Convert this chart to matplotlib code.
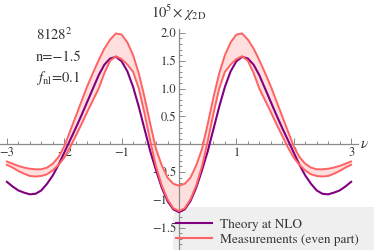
import numpy as np
import matplotlib
matplotlib.use("Agg")
import matplotlib.pyplot as plt
from matplotlib.lines import Line2D
from matplotlib.patches import FancyBboxPatch
from matplotlib.ticker import FixedLocator, MultipleLocator

plt.rcParams['font.family'] = ['STIXGeneral', 'DejaVu Serif']
plt.rcParams['mathtext.fontset'] = 'stix'

# ---- data ----
nu = np.round(np.arange(-3.0, 3.0001, 0.1), 1)

theory = [-0.675, -0.76, -0.83, -0.87, -0.90, -0.89, -0.83, -0.71, -0.56, -0.37,
          -0.15, 0.07, 0.29, 0.52, 0.76, 1.00, 1.24, 1.43, 1.54, 1.57,
          1.49, 1.31, 1.03, 0.67, 0.27, -0.13, -0.47, -0.78, -1.02, -1.17,
          -1.22,
          -1.17, -1.02, -0.78, -0.47, -0.13, 0.27, 0.67, 1.03, 1.31, 1.49,
          1.57, 1.54, 1.43, 1.24, 1.00, 0.76, 0.52, 0.29, 0.07, -0.15,
          -0.37, -0.56, -0.71, -0.83, -0.89, -0.90, -0.87, -0.83, -0.76, -0.675]

meas_upper = [-0.31, -0.35, -0.39, -0.42, -0.44, -0.45, -0.45, -0.42, -0.35, -0.23,
              -0.04, 0.23, 0.50, 0.77, 1.04, 1.28, 1.51, 1.72, 1.88, 1.99,
              1.97, 1.83, 1.60, 1.27, 0.84, 0.36, -0.09, -0.38, -0.60, -0.71,
              -0.745,
              -0.71, -0.60, -0.38, -0.09, 0.36, 0.84, 1.27, 1.60, 1.83, 1.97,
              1.99, 1.88, 1.72, 1.51, 1.28, 1.04, 0.77, 0.50, 0.23, -0.04,
              -0.23, -0.35, -0.42, -0.45, -0.45, -0.44, -0.42, -0.39, -0.35, -0.31]

meas_lower = [-0.37, -0.42, -0.48, -0.53, -0.57, -0.58, -0.57, -0.54, -0.47, -0.37,
              -0.24, -0.06, 0.15, 0.36, 0.58, 0.79, 1.00, 1.28, 1.50, 1.58,
              1.53, 1.43, 1.30, 1.00, 0.55, 0.05, -0.40, -0.74, -0.99, -1.15,
              -1.20,
              -1.15, -0.99, -0.74, -0.40, 0.05, 0.55, 1.00, 1.30, 1.43, 1.53,
              1.58, 1.50, 1.28, 1.00, 0.79, 0.58, 0.36, 0.15, -0.06, -0.24,
              -0.37, -0.47, -0.54, -0.57, -0.58, -0.57, -0.53, -0.48, -0.42, -0.37]

xticks = [-3, -2, -1, 1, 2, 3]
yticks = [-1.5, -1.0, -0.5, 0.5, 1.0, 1.5, 2.0]
legend_labels = ["Theory at NLO", "Measurements (even part)"]

# ---- styles ----
PURPLE = '#800080'
RED = '#ff6262'
FILL = '#ffdede'
AXC = '#8a8a8a'
TXT = '#333333'

W, H = 374, 250
fig = plt.figure(figsize=(W / 100, H / 100), dpi=100)
ax = fig.add_axes([0, 0, 358 / W, 221 / H])
ax.patch.set_alpha(0)
ax.set_xlim(-3.12, 3.12)
ax.set_ylim(-1.90, 2.07)

for s in ['top', 'right']:
    ax.spines[s].set_visible(False)
ax.spines['left'].set_position(('data', 0))
ax.spines['bottom'].set_position(('data', 0))
for s in ['left', 'bottom']:
    ax.spines[s].set_color(AXC)
    ax.spines[s].set_linewidth(0.9)
    ax.spines[s].set_zorder(3)

ax.xaxis.set_major_locator(FixedLocator(xticks))
ax.xaxis.set_minor_locator(MultipleLocator(0.2))
ax.yaxis.set_major_locator(FixedLocator(yticks))
ax.yaxis.set_minor_locator(MultipleLocator(0.1))
ax.set_xticklabels([f"{t:d}".replace('-', '\u2212') for t in xticks])
ax.set_yticklabels([f"{t:.1f}".replace('-', '\u2212') for t in yticks])
ax.tick_params(which='both', direction='in', color=AXC, labelcolor=TXT,
               labelsize=9, width=0.7)
ax.tick_params(which='major', length=4, pad=2)
ax.tick_params(which='minor', length=2)

ax.fill_between(nu, meas_lower, meas_upper, color=FILL, lw=0, zorder=2)
ax.plot(nu, theory, color=PURPLE, lw=1.5, zorder=4)
ax.plot(nu, meas_upper, color=RED, lw=1.4, zorder=4)
ax.plot(nu, meas_lower, color=RED, lw=1.4, zorder=4)

# legend background box (extends past the figure edge like the reference)
box = FancyBboxPatch((173 / W, -20 / H), 230 / W, (250 - 207 + 20) / H,
                     boxstyle='round,pad=0,rounding_size=0.035',
                     transform=fig.transFigure, facecolor='#efefef',
                     edgecolor='none', zorder=-1, mutation_aspect=W / H)
fig.patches.append(box)

handles = [Line2D([], [], color=PURPLE, lw=1.5), Line2D([], [], color=RED, lw=1.5)]
leg = ax.legend(handles, legend_labels, loc='center left',
                bbox_to_anchor=(176 / W, 1 - 232 / H), bbox_transform=fig.transFigure,
                frameon=False, borderaxespad=0, borderpad=0, handlelength=2.75,
                handletextpad=0.6, labelspacing=0.22, fontsize=9.5)
for t in leg.get_texts():
    t.set_color(TXT)

fig.text(179 / W, 1 - 13 / H, r'$10^5\!\times\,\chi_{\mathrm{2D}}$', ha='center', va='center',
         fontsize=10.5, color=TXT)
fig.text(365 / W, 1 - 144 / H, r'$\nu$', ha='center', va='center', fontsize=11, color=TXT)
fig.text(36 / W, 1 - 35 / H, r'$8128^2$', ha='left', va='center', fontsize=10.5, color=TXT)
fig.text(36 / W, 1 - 57 / H, 'n=\u22121.5', ha='left', va='center', fontsize=10.5, color=TXT)
fig.text(36 / W, 1 - 78 / H, r'$f_{\mathrm{nl}}\!=\!0.1$', ha='left', va='center',
         fontsize=10.5, color=TXT)

fig.savefig('out.png', dpi=100)
